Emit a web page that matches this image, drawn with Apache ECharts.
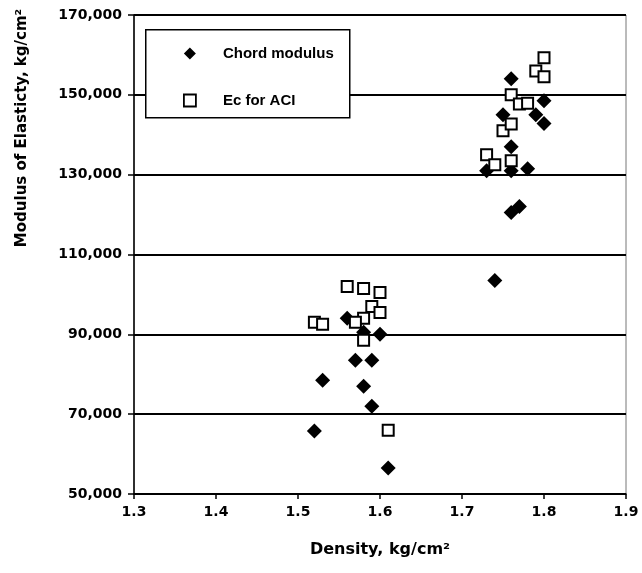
<!DOCTYPE html>
<html><head><meta charset="utf-8">
<script src="https://cdn.jsdelivr.net/npm/echarts@6/dist/echarts.min.js"></script>
<style>html,body{margin:0;padding:0;background:#fff}#c{width:642px;height:573px}</style>
</head><body><div id="c"></div>
<script>
// ---- data ----
const xTicks = [1.3, 1.4, 1.5, 1.6, 1.7, 1.8, 1.9];
const yTicks = [50000, 70000, 90000, 110000, 130000, 150000, 170000];

const chordDensity = [1.52, 1.53, 1.56, 1.57, 1.59, 1.58, 1.59, 1.60, 1.58, 1.61,
                      1.74, 1.76, 1.77, 1.73, 1.76, 1.78, 1.76, 1.75, 1.79, 1.80, 1.76, 1.80];
const chordModulus = [65800, 78500, 94000, 83500, 83500, 77000, 72000, 90000, 90500, 56500,
                      103500, 120500, 122000, 131000, 131000, 131500, 137000, 145000, 145000, 142800, 154000, 148500];

const aciDensity = [1.56, 1.58, 1.60, 1.59, 1.60, 1.58, 1.57, 1.52, 1.53, 1.58, 1.61,
                    1.73, 1.74, 1.76, 1.75, 1.76, 1.76, 1.77, 1.78, 1.79, 1.80, 1.80];
const aciModulus = [102000, 101500, 100500, 97000, 95500, 94000, 93000, 93000, 92500, 88500, 66000,
                    135000, 132500, 133500, 141000, 142700, 150000, 147700, 147900, 156000, 159300, 154500];

const seriesNames = ['Chord modulus', 'Ec for ACI'];
const xTitle = 'Density, kg/cm\u00b2';
const yTitle = 'Modulus of Elasticty, kg/cm\u00b2';

// ---- chart ----
const pair = (xs, ys) => xs.map((x, i) => [x, ys[i]]);
const chart = echarts.init(document.getElementById('c'), null, {renderer: 'canvas'});

chart.setOption({
  backgroundColor: '#fff',
  animation: false,
  grid: {left: 134, right: 16, top: 15, bottom: 79, show: true, borderColor: '#777', borderWidth: 1, backgroundColor: '#fff'},
  xAxis: {
    type: 'value', min: 1.3, max: 1.9, interval: 0.1,
    axisLine: {show: true, lineStyle: {color: '#000', width: 1.5}},
    axisTick: {show: true, length: 5, lineStyle: {color: '#000', width: 1.5}},
    axisLabel: {color: '#000', fontFamily: 'DejaVu Sans', fontWeight: 'bold', fontSize: 14, margin: 11,
      formatter: v => v.toFixed(1)},
    splitLine: {show: false},
    name: xTitle, nameLocation: 'middle', nameGap: 48,
    nameTextStyle: {color: '#000', fontFamily: 'DejaVu Sans', fontWeight: 'bold', fontSize: 16}
  },
  yAxis: {
    type: 'value', min: 50000, max: 170000, interval: 10000,
    axisLine: {show: true, lineStyle: {color: '#000', width: 1.5}},
    axisTick: {show: true, length: 6, customValues: yTicks, lineStyle: {color: '#000', width: 1.5}},
    axisLabel: {color: '#000', fontFamily: 'DejaVu Sans', fontWeight: 'bold', fontSize: 14, margin: 12,
      customValues: yTicks, formatter: v => v.toLocaleString('en-US')},
    splitLine: {show: true, lineStyle: {color: '#000', width: 2}}
  },
  legend: {
    orient: 'vertical', left: 183, top: 46, itemWidth: 12, itemHeight: 12, itemGap: 32,
    padding: 0, selectedMode: false, z: 20, symbolKeepAspect: true,
    textStyle: {color: '#000', fontFamily: 'Liberation Sans', fontWeight: 'bold', fontSize: 15, padding: [0, 0, 0, 22]},
    data: [
      {name: seriesNames[0]},
      {name: seriesNames[1], itemStyle: {borderWidth: 1.8}}
    ]
  },
  graphic: [
    {type: 'rect', left: 145, top: 29, shape: {width: 204, height: 88}, z: 3,
      style: {fill: '#fff', stroke: '#000', lineWidth: 1.5}},
    {type: 'text', x: 22, y: 128, rotation: Math.PI / 2, z: 100,
      style: {text: yTitle, textAlign: 'center', textVerticalAlign: 'middle',
        font: 'bold 15px "DejaVu Sans"', fill: '#000'}}
  ],
  series: [
    {name: seriesNames[0], type: 'scatter', symbol: 'diamond', symbolSize: 15,
      itemStyle: {color: '#000', opacity: 1}, data: pair(chordDensity, chordModulus), z: 4},
    {name: seriesNames[1], type: 'scatter', symbol: 'rect', symbolSize: 11,
      itemStyle: {color: '#fff', borderColor: '#000', borderWidth: 2, opacity: 1},
      data: pair(aciDensity, aciModulus), z: 5}
  ]
});
</script>
</body></html>
